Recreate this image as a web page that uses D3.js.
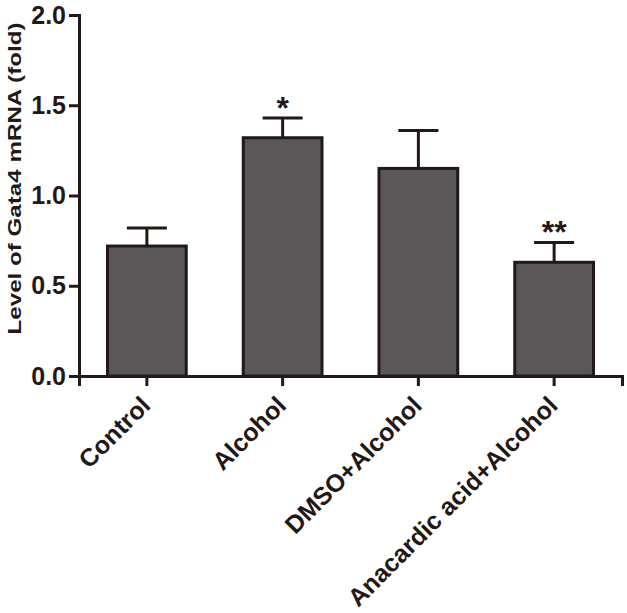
<!DOCTYPE html>
<html>
<head>
<meta charset="utf-8">
<script src="https://cdn.jsdelivr.net/npm/d3@7/dist/d3.min.js"></script>
<style>
html,body{margin:0;padding:0;background:#fff;}
svg{display:block;}
</style>
</head>
<body>
<svg id="chart" width="627" height="613"></svg>
<script>
const categories = ["Control", "Alcohol", "DMSO+Alcohol", "Anacardic acid+Alcohol"];
const means = [0.72, 1.32, 1.15, 0.63];
const errors = [0.10, 0.11, 0.21, 0.11];
const significance = ["", "*", "", "**"];
const yTicks = [0.0, 0.5, 1.0, 1.5, 2.0];
const yTitle = "Level of Gata4 mRNA (fold)";

const ink = "#231815";
const barFill = "#595757";
const svg = d3.select("#chart");
const m = {left: 79, right: 5, top: 15, bottom: 237};
const W = 627, H = 613;

const x = d3.scaleBand().domain(categories).range([m.left, W - m.right]).padding(0);
const y = d3.scaleLinear().domain([0, 2]).range([H - m.bottom, m.top]);
const barW = x.bandwidth() * 0.58;

const g = svg.append("g");

// bars
g.selectAll("rect.bar").data(categories).join("rect")
  .attr("class", "bar")
  .attr("x", d => x(d) + x.bandwidth() / 2 - barW / 2)
  .attr("y", (d, i) => y(means[i]))
  .attr("width", barW)
  .attr("height", (d, i) => y(0) - y(means[i]))
  .attr("fill", barFill)
  .attr("stroke", ink)
  .attr("stroke-width", 3);

// error bars
const capW = 40;
categories.forEach((c, i) => {
  const cx = x(c) + x.bandwidth() / 2;
  g.append("line").attr("x1", cx).attr("x2", cx)
    .attr("y1", y(means[i])).attr("y2", y(means[i] + errors[i]))
    .attr("stroke", ink).attr("stroke-width", 3);
  g.append("line").attr("x1", cx - capW / 2).attr("x2", cx + capW / 2)
    .attr("y1", y(means[i] + errors[i])).attr("y2", y(means[i] + errors[i]))
    .attr("stroke", ink).attr("stroke-width", 3);
  if (significance[i]) {
    g.append("text").attr("x", cx).attr("y", y(means[i] + errors[i]) + 1)
      .attr("text-anchor", "middle")
      .attr("font-family", "Liberation Sans, Arial, sans-serif")
      .attr("font-weight", "bold").attr("font-size", 32)
      .attr("fill", ink).text(significance[i]);
  }
});

// y axis
const yAxis = d3.axisLeft(y).tickValues(yTicks).tickFormat(d3.format(".1f")).tickSizeOuter(0).tickSize(10).tickPadding(3);
const ya = svg.append("g").attr("transform", `translate(${m.left},0)`).call(yAxis);
ya.select(".domain").attr("stroke", ink).attr("stroke-width", 3);
ya.selectAll(".tick line").attr("stroke", ink).attr("stroke-width", 3);
ya.selectAll(".tick text").attr("fill", ink)
  .attr("font-family", "Liberation Sans, Arial, sans-serif")
  .attr("font-weight", "bold").attr("font-size", 25);

// x axis
const xAxis = d3.axisBottom(x).tickSizeOuter(0).tickSize(10).tickPadding(8);
const xa = svg.append("g").attr("transform", `translate(0,${y(0)})`).call(xAxis);
xa.select(".domain").attr("stroke", ink).attr("stroke-width", 3);
xa.selectAll(".tick line").attr("stroke", ink).attr("stroke-width", 3);
xa.selectAll(".tick text").attr("fill", ink)
  .attr("font-family", "Liberation Sans, Arial, sans-serif")
  .attr("font-weight", "bold").attr("font-size", 25)
  .attr("text-anchor", "end")
  .attr("dy", null)
  .attr("transform", "translate(5,31) rotate(-45)")
  .attr("y", 0).attr("x", 0);

// y title
svg.append("text")
  .attr("transform", `translate(21,${(22 + 335) / 2}) rotate(-90)`)
  .attr("text-anchor", "middle")
  .attr("font-family", "Liberation Sans, Arial, sans-serif")
  .attr("font-weight", "bold").attr("font-size", 18)
  .attr("textLength", 312).attr("lengthAdjust", "spacingAndGlyphs")
  .attr("fill", ink)
  .text(yTitle);
</script>
</body>
</html>
